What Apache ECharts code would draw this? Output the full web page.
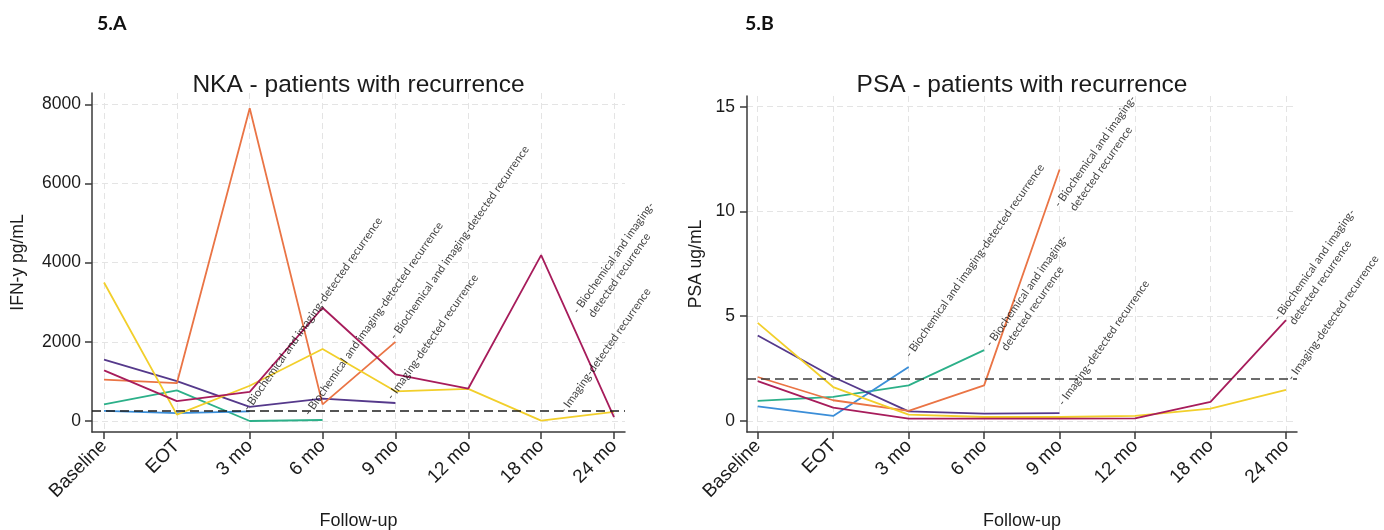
<!DOCTYPE html>
<html>
<head>
<meta charset="utf-8">
<script src="https://cdn.jsdelivr.net/npm/echarts@6/dist/echarts.min.js"></script>
<style>
  html, body { margin: 0; padding: 0; background: #ffffff; }
  #chart { width: 1384px; height: 530px; }
</style>
</head>
<body>
<div id="chart"></div>
<script>
// Follow-up visits (category index = position on the x axis)
const followUp = ['Baseline', 'EOT', '3 mo', '6 mo', '9 mo', '12 mo', '18 mo', '24 mo'];

// 5.A  IFN-y (NKA), pg/mL - one array per patient, a shorter array stops at the last visit
const nkaYellow  = [3500, 160, 890, 1820, 750, 810, 10, 230];
const nkaOrange  = [1045, 955, 7900, 420, 2000];
const nkaPurple  = [1550, 1005, 355, 565, 455];
const nkaMagenta = [1280, 500, 735, 2860, 1180, 820, 4190, 100];
const nkaTeal    = [420, 775, 0, 25];
const nkaBlue    = [255, 200, 245];
const nkaCutoff  = 250;
const nkaTicks   = [0, 2000, 4000, 6000, 8000];

// 5.B  PSA, ug/mL
const psaYellow  = [4.68, 1.62, 0.30, 0.19, 0.19, 0.24, 0.59, 1.48];
const psaOrange  = [2.10, 0.99, 0.48, 1.70, 12.0];
const psaPurple  = [4.08, 2.10, 0.46, 0.35, 0.38];
const psaMagenta = [1.90, 0.64, 0.11, 0.11, 0.11, 0.13, 0.91, 4.81];
const psaTeal    = [0.96, 1.15, 1.70, 3.38];
const psaBlue    = [0.70, 0.24, 2.58];
const psaCutoff  = 2;
const psaTicks   = [0, 5, 10, 15];

// Recurrence notes written at the last visit of each patient
const BIO_ONE = '- Biochemical and imaging-detected recurrence';
const BIO_TWO = '- Biochemical and imaging-\n  detected recurrence';
const IMG_ONE = '- Imaging-detected recurrence';

const nkaNotes = [
  { values: nkaBlue,    text: BIO_ONE },
  { values: nkaTeal,    text: BIO_ONE },
  { values: nkaOrange,  text: BIO_ONE },
  { values: nkaPurple,  text: IMG_ONE },
  { values: nkaMagenta, text: BIO_TWO },
  { values: nkaYellow,  text: IMG_ONE }
];
const psaNotes = [
  { values: psaBlue,    text: BIO_ONE },
  { values: psaTeal,    text: BIO_TWO },
  { values: psaOrange,  text: BIO_TWO },
  { values: psaPurple,  text: IMG_ONE },
  { values: psaMagenta, text: BIO_TWO },
  { values: psaYellow,  text: IMG_ONE }
];

// ---- styling ----
const COLORS = {
  yellow: '#f2cf2b', orange: '#ea7445', purple: '#55398b',
  magenta: '#a71c5b', teal: '#2cb089', blue: '#3b8ed8'
};
// pixel shift of each note's top-left corner from its end point
const nkaNoteShift = [[-10, -6], [-22, -10], [-9, -8], [-12, -9], [-45, -109], [-58, -4]];
const psaNoteShift = [[-7, -15], [-2, -9], [-9, 32], [-5, -13], [-16, -5], [-2, -15]];

const SANS = '"Liberation Sans", Arial, sans-serif';
const NOTE_FONT = 'Lato, "Open Sans", sans-serif';
const AXIS_COLOR = '#3a3a3a';
const TEXT_COLOR = '#1b1b1b';
const GRID_LINE = { show: true, lineStyle: { color: '#e4e4e4', width: 1, type: [6, 4] } };
const catIdx = followUp.map((_, i) => i);

function xAxisFor(gridIndex, min, max) {
  return {
    type: 'value', gridIndex, min, max,
    axisLine: { show: true, onZero: false, lineStyle: { color: AXIS_COLOR, width: 1.5 } },
    axisTick: { show: true, customValues: catIdx, length: 7, lineStyle: { color: AXIS_COLOR, width: 1.5 } },
    axisLabel: {
      show: true, customValues: catIdx, formatter: v => followUp[Math.round(v)],
      rotate: 45, margin: 11, fontSize: 19, color: TEXT_COLOR, fontFamily: SANS
    },
    splitLine: GRID_LINE,
    name: 'Follow-up', nameLocation: 'middle', nameGap: 80, nameMoveOverlap: false,
    nameTextStyle: { fontSize: 18, color: TEXT_COLOR, fontFamily: SANS }
  };
}

function yAxisFor(gridIndex, min, max, ticks, name, nameGap, labelGap) {
  return {
    type: 'value', gridIndex, min, max,
    axisLine: { show: true, onZero: false, lineStyle: { color: AXIS_COLOR, width: 1.5 } },
    axisTick: { show: true, customValues: ticks, length: 7, lineStyle: { color: AXIS_COLOR, width: 1.5 } },
    axisLabel: {
      show: true, customValues: ticks, formatter: v => String(v),
      margin: labelGap, fontSize: 17.5, color: TEXT_COLOR, fontFamily: SANS
    },
    splitLine: GRID_LINE,
    name, nameLocation: 'middle', nameGap, nameRotate: 90, nameMoveOverlap: false,
    nameTextStyle: { fontSize: 17.5, color: TEXT_COLOR, fontFamily: SANS }
  };
}

function patientLine(values, color, gridIndex) {
  return {
    type: 'line', xAxisIndex: gridIndex, yAxisIndex: gridIndex,
    data: values.map((v, i) => [i, v]),
    symbol: 'none', showSymbol: false, silent: true, z: 3,
    lineStyle: { color, width: 1.8 }, itemStyle: { color }
  };
}

function cutoffLine(value, color, gridIndex) {
  return {
    type: 'line', xAxisIndex: gridIndex, yAxisIndex: gridIndex, data: [], silent: true, z: 4,
    markLine: {
      silent: true, symbol: 'none', animation: false, label: { show: false },
      lineStyle: { color, width: 1.6, type: [9, 5] },
      data: [{ yAxis: value }]
    }
  };
}

function noteSeries(notes, shifts, gridIndex) {
  return {
    type: 'scatter', xAxisIndex: gridIndex, yAxisIndex: gridIndex, silent: true, z: 10,
    symbolSize: 2, itemStyle: { color: 'rgba(0,0,0,0)' },
    data: notes.map((n, k) => ({
      value: [n.values.length - 1, n.values[n.values.length - 1]],
      label: {
        show: true, formatter: n.text,
        position: [shifts[k][0] + 1, shifts[k][1] + 1],
        rotate: 55, align: 'left', verticalAlign: 'top',
        fontFamily: NOTE_FONT, fontSize: 11.3, lineHeight: 15, color: '#0d0d0d'
      }
    }))
  };
}

const TITLE_STYLE = { fontFamily: SANS, fontWeight: 'normal', fontSize: 24.5, color: TEXT_COLOR };
const PANEL_STYLE = { fontFamily: NOTE_FONT, fontWeight: 'bold', fontSize: 19.5, color: '#111' };

const chart = echarts.init(document.getElementById('chart'), null, { renderer: 'canvas' });
chart.setOption({
  animation: false,
  backgroundColor: '#ffffff',
  textStyle: { fontFamily: SANS },
  title: [
    { text: '5.A', left: 97, top: 14, padding: 0, textStyle: PANEL_STYLE },
    { text: '5.B', left: 745, top: 14, padding: 0, textStyle: PANEL_STYLE },
    { text: 'NKA - patients with recurrence', left: 358.5, top: 73, padding: 0, textAlign: 'center', textStyle: TITLE_STYLE },
    { text: 'PSA - patients with recurrence', left: 1022, top: 73, padding: 0, textAlign: 'center', textStyle: TITLE_STYLE }
  ],
  grid: [
    { left: 92, top: 93, width: 533, height: 339, containLabel: false, outerBoundsMode: 'none' },
    { left: 747, top: 96, width: 550, height: 336, containLabel: false, outerBoundsMode: 'none' }
  ],
  xAxis: [xAxisFor(0, -0.165, 7.151), xAxisFor(1, -0.142, 7.146)],
  yAxis: [
    yAxisFor(0, -278, 8286, nkaTicks, 'IFN-y pg/mL', 65, 11),
    yAxisFor(1, -0.525, 15.51, psaTicks, 'PSA ug/mL', 42, 12)
  ],
  series: [
    patientLine(nkaTeal, COLORS.teal, 0),
    patientLine(nkaBlue, COLORS.blue, 0),
    patientLine(nkaPurple, COLORS.purple, 0),
    patientLine(nkaOrange, COLORS.orange, 0),
    patientLine(nkaYellow, COLORS.yellow, 0),
    patientLine(nkaMagenta, COLORS.magenta, 0),
    cutoffLine(nkaCutoff, '#1e1e1e', 0),
    noteSeries(nkaNotes, nkaNoteShift, 0),

    patientLine(psaTeal, COLORS.teal, 1),
    patientLine(psaBlue, COLORS.blue, 1),
    patientLine(psaPurple, COLORS.purple, 1),
    patientLine(psaOrange, COLORS.orange, 1),
    patientLine(psaYellow, COLORS.yellow, 1),
    patientLine(psaMagenta, COLORS.magenta, 1),
    cutoffLine(psaCutoff, '#3c3c3c', 1),
    noteSeries(psaNotes, psaNoteShift, 1)
  ]
});
</script>
</body>
</html>
